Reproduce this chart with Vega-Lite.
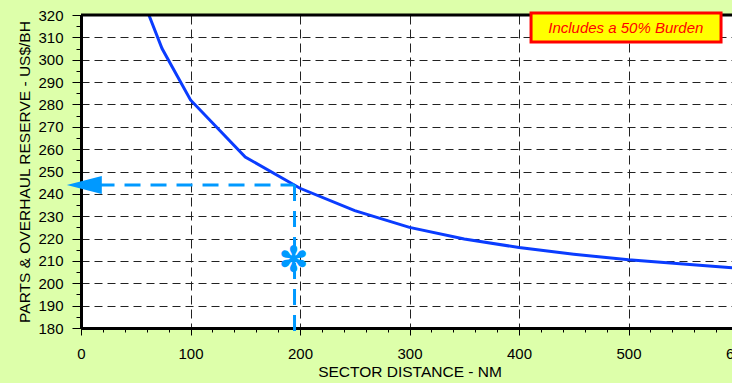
{
  "$schema": "https://vega.github.io/schema/vega-lite/v6.json",
  "width": 657,
  "height": 313,
  "autosize": {"type": "none"},
  "padding": {"left": 81, "top": 15, "right": 0, "bottom": 55},
  "background": "#ddffaa",
  "config": {
    "view": {"fill": "white", "stroke": null},
    "font": "Liberation Sans"
  },
  "datasets": {
    "curve": [
      {"x": 62, "y": 320},
      {"x": 74, "y": 305},
      {"x": 100, "y": 282},
      {"x": 150, "y": 256.5},
      {"x": 200, "y": 242.5},
      {"x": 250, "y": 232.5},
      {"x": 300, "y": 225},
      {"x": 350, "y": 219.8},
      {"x": 400, "y": 216},
      {"x": 450, "y": 213},
      {"x": 500, "y": 210.5},
      {"x": 550, "y": 208.6},
      {"x": 600, "y": 206.8}
    ],
    "guides": [
      {"x": 16, "x2": 195, "y": 244, "y2": 244},
      {"x": 195, "x2": 195, "y": 244, "y2": 175.5}
    ],
    "arrow": [{"x": 3, "y": 244}],
    "star": [{"x": 194, "y": 210, "t": "✻"}],
    "box": [{"x": 411, "x2": 584.5, "y": 320.9, "y2": 307.9}],
    "note": [{"x": 497.5, "y": 314.4, "t": "Includes a 50% Burden"}],
    "top": [{"x": 0, "x2": 600, "y": 320, "y2": 320}]
  },
  "encoding": {
    "x": {
      "field": "x", "type": "quantitative",
      "scale": {"domain": [0, 600], "nice": false, "zero": false},
      "axis": {
        "title": "SECTOR DISTANCE - NM",
        "titleFont": "Liberation Sans", "titleFontSize": 15.5, "titleFontWeight": "normal", "titleColor": "black",
        "titlePadding": 3,
        "values": [0,20,40,60,80,100,120,140,160,180,200,220,240,260,280,300,320,340,360,380,400,420,440,460,480,500,520,540,560,580,600],
        "labelExpr": "datum.value % 100 == 0 ? datum.label : ''",
        "labelFontSize": 15, "labelColor": "black", "labelFlush": false, "labelPadding": 11,
        "labelOverlap": false,
        "domainColor": "black", "domainWidth": 3,
        "tickColor": "black", "tickWidth": 1,
        "tickSize": {"condition": {"test": "datum.value % 100 != 0", "value": 4}, "value": 7},
        "grid": true, "gridColor": "#222", "gridDash": [9, 5], "gridWidth": 1,
        "gridOpacity": {"condition": {"test": "datum.value % 100 != 0", "value": 0}, "value": 1}
      }
    },
    "y": {
      "field": "y", "type": "quantitative",
      "scale": {"domain": [180, 320], "nice": false, "zero": false},
      "axis": {
        "title": "PARTS & OVERHAUL RESERVE - US$/BH",
        "titleFont": "Liberation Sans", "titleFontSize": 15.5, "titleFontWeight": "normal", "titleColor": "black",
        "titlePadding": 5,
        "values": [180,185,190,195,200,205,210,215,220,225,230,235,240,245,250,255,260,265,270,275,280,285,290,295,300,305,310,315,320],
        "labelExpr": "datum.value % 10 == 0 ? datum.label : ''",
        "labelFontSize": 15, "labelColor": "black", "labelPadding": 9,
        "labelOverlap": false, "labelFlush": false,
        "domainColor": "black", "domainWidth": 3,
        "tickColor": "black", "tickWidth": 1,
        "tickSize": {"condition": {"test": "datum.value % 10 != 0", "value": 5}, "value": 9},
        "grid": true, "gridColor": "#222", "gridDash": [8, 5], "gridWidth": 1,
        "gridOpacity": {"condition": {"test": "datum.value % 10 != 0", "value": 0}, "value": 1}
      }
    }
  },
  "layer": [
    {
      "data": {"name": "curve"},
      "mark": {"type": "line", "color": "#0a3cff", "strokeWidth": 3}
    },
    {
      "data": {"name": "top"},
      "mark": {"type": "rule", "color": "black", "strokeWidth": 3},
      "encoding": {"x2": {"field": "x2"}, "y2": {"field": "y2"}}
    },
    {
      "data": {"name": "guides"},
      "mark": {"type": "rule", "color": "#0099ff", "strokeWidth": 3, "strokeDash": [16, 10]},
      "encoding": {"x2": {"field": "x2"}, "y2": {"field": "y2"}}
    },
    {
      "data": {"name": "arrow"},
      "mark": {"type": "point", "shape": "M-1,0L1,-0.514L1,0.514Z", "size": 1225, "filled": true, "color": "#0099ff", "opacity": 1}
    },
    {
      "data": {"name": "star"},
      "mark": {"type": "text", "color": "#0099ff", "fontSize": 34, "font": "DejaVu Sans", "baseline": "middle", "align": "center", "stroke": "#0099ff", "strokeWidth": 1.5},
      "encoding": {"text": {"field": "t"}}
    },
    {
      "data": {"name": "box"},
      "mark": {"type": "rect", "fill": "#ffff00", "stroke": "#ff0000", "strokeWidth": 3},
      "encoding": {"x2": {"field": "x2"}, "y2": {"field": "y2"}}
    },
    {
      "data": {"name": "note"},
      "mark": {"type": "text", "color": "#ff0000", "fontSize": 15, "fontStyle": "italic", "font": "Liberation Sans", "baseline": "middle", "align": "center"},
      "encoding": {"text": {"field": "t"}}
    }
  ]
}
